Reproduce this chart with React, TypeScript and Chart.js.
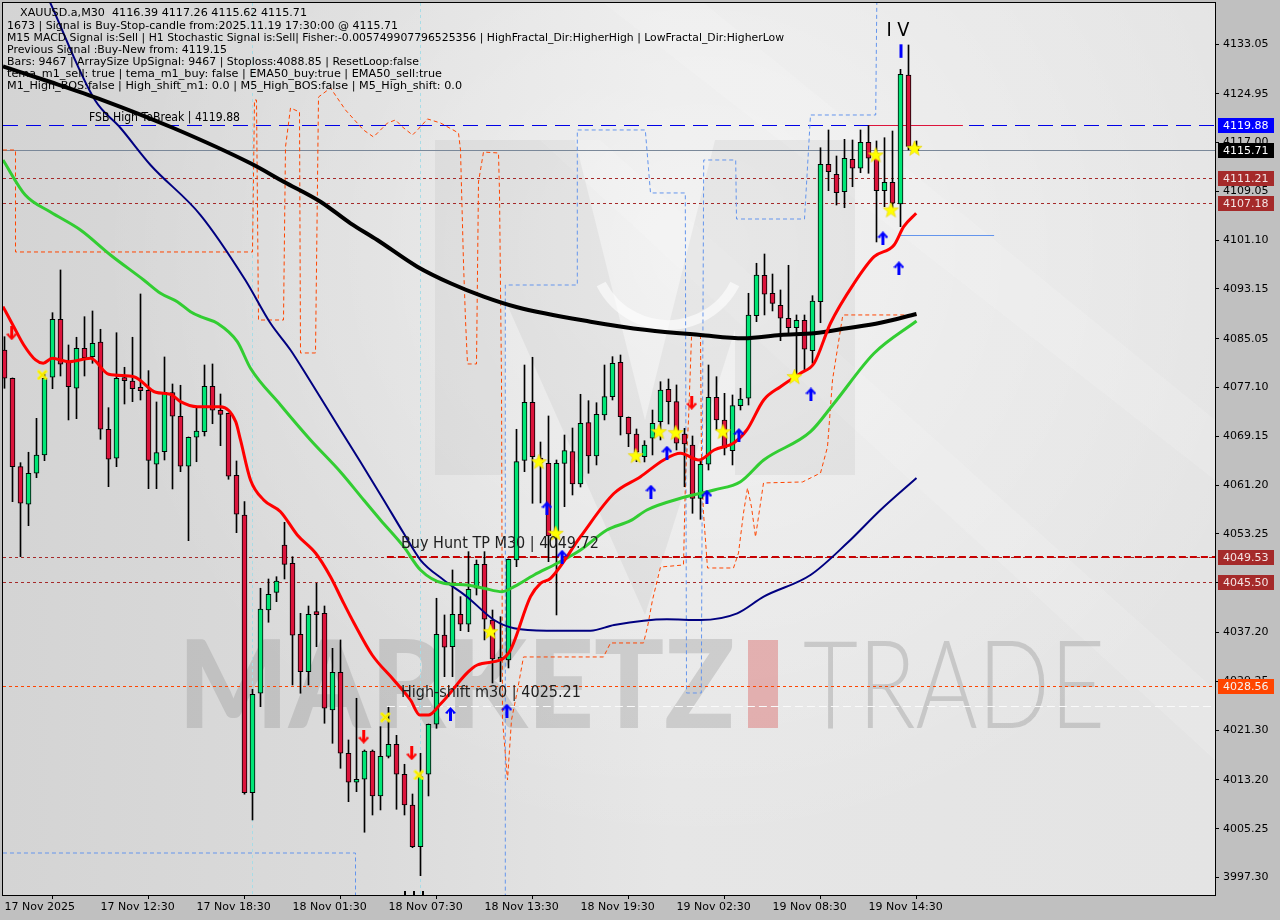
import React, { useEffect, useRef } from "react";
import { Chart, registerables } from "chart.js";
Chart.register(...registerables);

// ---------- candles (M30) ----------
const opens = [4083.22,4078.61,4064.21,4058.09,4063.14,4066.12,4078.77,4088.22,4081.31,4076.98,4083.49,4082.13,4084.52,4070.30,4065.58,4078.61,4078.17,4077.14,4076.65,4064.60,4066.65,4076.26,4072.42,4064.28,4069.00,4069.91,4077.30,4073.40,4072.91,4062.81,4056.34,4011.12,4027.31,4040.87,4043.75,4051.46,4048.48,4036.91,4030.82,4040.33,4040.33,4024.58,4030.72,4017.53,4012.81,4013.30,4017.91,4010.58,4017.04,4019.00,4014.11,4009.11,4002.32,4014.11,4022.26,4036.80,4034.89,4040.17,4038.54,4044.41,4048.31,4039.24,4032.73,4032.73,4049.01,4065.25,4074.70,4065.63,4064.76,4053.09,4064.76,4066.65,4061.39,4071.38,4065.95,4072.63,4075.61,4081.21,4072.26,4069.54,4065.84,4068.84,4071.54,4076.82,4074.80,4069.54,4067.74,4059.06,4064.60,4075.51,4071.82,4066.82,4074.15,4075.35,4088.80,4095.38,4092.45,4090.50,4088.38,4086.85,4088.05,4083.10,4091.08,4113.46,4111.83,4109.00,4114.28,4112.81,4117.04,4115.25,4109.16,4110.53,4107.00,4128.01,4116.39];
const highs = [4085.38,4078.66,4064.86,4066.56,4072.09,4079.31,4089.29,4096.25,4084.03,4085.29,4088.64,4089.57,4086.59,4073.82,4086.03,4080.40,4085.29,4092.34,4079.85,4074.75,4082.08,4077.68,4077.47,4069.05,4073.72,4080.77,4080.94,4076.05,4072.96,4065.14,4058.51,4027.96,4044.41,4045.92,4046.29,4055.15,4049.55,4040.33,4041.52,4045.22,4041.52,4034.63,4035.99,4019.70,4026.49,4018.07,4018.07,4021.87,4025.03,4020.46,4015.74,4010.90,4017.53,4022.30,4042.78,4040.06,4047.39,4043.04,4050.37,4049.01,4050.37,4040.87,4039.78,4049.18,4070.30,4080.77,4082.03,4068.23,4072.47,4065.30,4069.37,4070.51,4076.00,4074.96,4074.63,4080.77,4082.13,4082.40,4072.31,4070.35,4068.44,4073.44,4078.05,4078.49,4077.52,4070.46,4069.21,4065.30,4080.77,4078.87,4076.16,4075.89,4076.98,4092.45,4097.34,4098.85,4095.59,4092.99,4097.01,4088.92,4088.92,4092.06,4116.16,4119.05,4114.81,4117.53,4117.42,4119.05,4119.75,4117.26,4117.79,4118.88,4128.93,4132.89,4117.26];
const lows = [4076.98,4058.51,4049.55,4054.60,4062.42,4065.19,4076.91,4078.98,4071.82,4072.03,4078.98,4081.05,4068.67,4060.95,4064.21,4074.42,4074.80,4075.07,4060.63,4060.63,4065.30,4060.58,4063.40,4052.16,4065.02,4069.21,4071.21,4067.63,4062.16,4053.46,4010.86,4006.67,4025.12,4038.87,4042.22,4045.92,4028.66,4027.31,4028.66,4034.89,4022.42,4019.16,4015.09,4009.65,4011.28,4004.67,4007.48,4008.30,4016.77,4008.41,4007.48,4002.16,3997.60,4010.58,4021.60,4030.01,4030.01,4037.50,4037.34,4043.31,4035.99,4028.98,4029.19,4031.43,4047.92,4063.40,4058.25,4058.30,4048.74,4040.06,4057.70,4059.60,4060.90,4063.14,4064.49,4071.82,4075.07,4069.37,4067.47,4065.02,4064.98,4066.12,4068.56,4071.16,4066.93,4060.95,4056.62,4055.64,4063.67,4070.19,4066.12,4064.49,4073.44,4074.26,4087.83,4088.92,4089.57,4084.73,4086.03,4079.15,4079.96,4081.05,4087.66,4109.16,4106.83,4106.39,4109.81,4112.09,4112.00,4100.81,4106.56,4105.69,4103.30,4115.80,4115.62];
const closes = [4078.61,4064.21,4058.25,4063.14,4066.12,4078.61,4088.22,4080.89,4077.24,4083.49,4081.96,4084.31,4070.30,4065.42,4078.61,4078.22,4076.91,4076.59,4065.25,4066.49,4076.33,4072.42,4064.28,4069.00,4070.02,4077.30,4073.40,4072.74,4062.65,4056.46,4011.12,4027.14,4041.03,4043.43,4045.59,4048.31,4036.75,4030.82,4040.17,4040.11,4024.86,4030.72,4017.53,4012.81,4013.30,4017.91,4010.58,4017.04,4019.00,4014.11,4009.11,4002.32,4013.72,4022.26,4036.91,4034.80,4040.17,4038.54,4044.24,4048.31,4039.36,4032.89,4033.22,4049.13,4065.03,4074.70,4065.84,4064.81,4052.92,4064.76,4066.82,4061.39,4071.28,4065.95,4072.74,4075.61,4081.05,4072.35,4069.54,4066.56,4067.74,4071.28,4076.70,4074.80,4068.02,4067.91,4059.06,4064.60,4075.51,4071.82,4067.21,4074.15,4075.24,4088.92,4095.43,4092.29,4090.82,4088.38,4086.85,4088.05,4083.33,4091.20,4113.46,4112.26,4108.84,4114.44,4112.81,4117.04,4114.44,4109.16,4110.53,4107.11,4128.12,4116.39,4115.71];

// ---------- axes ----------
const xTickIndex = [0, 12, 24, 36, 48, 60, 72, 84, 96, 108];
const xTickLabels = ["17 Nov 2025","17 Nov 12:30","17 Nov 18:30","18 Nov 01:30","18 Nov 07:30","18 Nov 13:30","18 Nov 19:30","19 Nov 02:30","19 Nov 08:30","19 Nov 14:30"];
const yTicks = [4133.05,4124.95,4117.00,4109.05,4101.10,4093.15,4085.05,4077.10,4069.15,4061.20,4053.25,4045.30,4037.20,4029.25,4021.30,4013.20,4005.25,3997.30];
const yMin = 3994.45;
const yMax = 4139.73;
const xMin = -0.1875;
const xMax = 151.3125;

// ---------- moving averages [index, price] ----------
const redMA = [[-0.19,4090.28],[1.16,4087.01],[2.41,4084.03],[3.88,4081.59],[4.84,4081.05],[5.96,4081.87],[8.04,4081.31],[10.75,4081.87],[13.04,4079.26],[16.16,4078.87],[18.9,4076.33],[20.75,4076.0],[22,4074.8],[24.1,4073.98],[27,4073.98],[28.9,4071.54],[29.5,4068.56],[30.75,4062.04],[32.4,4058.79],[34.5,4056.88],[36.6,4053.09],[38.9,4050.11],[40.75,4046.29],[42.2,4042.5],[43.7,4038.71],[45.96,4033.54],[48.66,4029.47],[50.75,4026.21],[51.9,4023.77],[53.0,4023.77],[54.5,4025.56],[59.1,4031.91],[62,4032.73],[63.25,4034.36],[65.75,4043.04],[67,4045.22],[68.25,4046.03],[72,4052.81],[76.2,4059.88],[79.5,4062.58],[82.4,4065.3],[84.5,4066.39],[86.8,4065.3],[88.7,4066.93],[91.2,4068.12],[92.8,4070.19],[94.9,4075.07],[97,4077.24],[99.5,4079.42],[101.2,4081.05],[103.25,4087.57],[106.2,4094.08],[108.7,4098.41],[111.2,4100.32],[112.4,4103.3],[113.96,4105.48]];
const greenMA = [[-0.19,4114.16],[2.6,4108.46],[5.75,4105.69],[9.5,4102.76],[13.25,4098.69],[17.4,4094.62],[19.5,4092.45],[21.6,4091.08],[23.25,4089.45],[24.5,4088.64],[26.6,4087.57],[29.1,4084.57],[30.75,4080.24],[34.5,4074.26],[38.25,4068.56],[42,4063.35],[44.9,4058.79],[47,4055.53],[49.9,4051.18],[52,4047.39],[54.9,4045.22],[57.8,4044.94],[59.9,4044.41],[62.2,4043.85],[63.7,4044.67],[66.2,4046.57],[69.1,4048.48],[72,4050.64],[75.3,4053.9],[78.25,4055.42],[80.3,4057.16],[84.5,4059.06],[88.7,4060.42],[92,4061.77],[94.9,4065.3],[100.75,4069.91],[103.7,4074.54],[108.7,4082.68],[114,4087.94]];
const blackMA = [[-0.19,4129.4],[5.75,4126.86],[12.25,4123.93],[21.1,4119.37],[30.75,4113.62],[34.9,4110.63],[39.5,4107.37],[43.25,4103.85],[46.6,4101.13],[51.6,4096.78],[55.75,4094.08],[59.9,4091.9],[64.1,4090.17],[73.25,4087.83],[80.3,4086.47],[87,4085.66],[92.4,4085.12],[97,4085.66],[101.2,4085.94],[105.3,4086.75],[109.5,4087.66],[114,4089.08]];
const navyMA = [[-0.19,4156.3],[5.56,4140.22],[11.3,4123.93],[14.5,4119.37],[18.25,4113.35],[24.5,4105.2],[30.1,4094.62],[33.25,4087.57],[35.75,4083.22],[38.0,4078.61],[42,4070.19],[44.5,4064.98],[47.4,4058.79],[49.9,4053.36],[52,4049.01],[54.9,4045.76],[57.8,4043.04],[61.2,4039.24],[63.7,4037.89],[67.8,4037.5],[73.25,4037.5],[76.2,4038.43],[82.8,4039.36],[87,4039.24],[91.6,4040.33],[94.9,4043.04],[100.75,4046.57],[105.3,4051.73],[109.5,4057.16],[114,4062.37]];

// ---------- channel step lines [index, price] ----------
const orangeSteps = [[-0.19,4115.79],[1.375,4115.79],[1.375,4099.18],[31,4099.18],[31.25,4123.93],[31.5,4123.93],[31.75,4088.1],[34.875,4088.1],[35.125,4116.28],[35.75,4122.63],[36.875,4121.98],[37,4082.73],[38.875,4082.73],[39.25,4124.42],[40.75,4125.89],[42.625,4122.3],[44.875,4119.05],[46.125,4117.91],[47.875,4120.19],[48.875,4120.68],[49.75,4119.54],[51,4118.23],[51.625,4119.05],[52.875,4120.84],[54.5,4120.19],[56.75,4118.56],[57,4115.79],[57.375,4097.39],[57.625,4088.1],[57.875,4080.94],[59,4080.94],[59.25,4110.58],[59.875,4115.46],[61.75,4115.3],[61.875,4108.79],[62.125,4078.33],[62.25,4022.96],[62.875,4013.18],[63.375,4022.96],[64.125,4027.84],[64.875,4033.22],[74.875,4033.22],[75.75,4035.5],[79.875,4035.5],[80.375,4038.1],[81,4042.5],[82,4047.87],[84.875,4048.2],[85.125,4062.53],[85.5,4071.82],[85.875,4085.33],[87,4085.82],[87.125,4064.81],[87.375,4056.67],[87.875,4047.71],[91.125,4047.71],[91.75,4050.15],[92.375,4056.67],[92.875,4060.74],[93.375,4057.65],[93.875,4052.76],[94.875,4061.56],[99.75,4061.72],[102,4063.18],[102.875,4067.42],[103.5,4078.33],[104.75,4088.59],[104.875,4088.92],[114,4088.92]];
const blueSteps = [[-0.19,4013.18],[-0.19,4001.29],[43.875,4001.29],[43.875,3977],[62.6,3977],[62.6,4093.8],[71.6,4093.8],[71.6,4119.05],[80.1,4119.05],[80.75,4108.79],[85.1,4108.79],[85.25,4027.35],[87.1,4027.35],[87.4,4114.16],[91.4,4114.16],[91.5,4104.55],[100,4104.55],[100.75,4121.49],[108.9,4121.49],[109.1,4148]];

// ---------- signal markers [index, price] ----------
const stars = [[60.75,4037.34],[66.8,4065.02],[68.9,4053.36],[78.9,4066.0],[81.8,4069.91],[83.9,4069.75],[89.8,4069.91],[98.75,4078.87],[108.9,4114.98],[110.8,4106.02],[113.75,4116.07]];
const crosses = [[4.71,4079.15],[47.6,4023.4],[51.8,4014.0]];
const upArrows = [[55.75,4023.93],[62.8,4024.47],[67.8,4057.43],[69.7,4049.55],[80.8,4060.14],[82.8,4066.49],[87.8,4059.33],[91.8,4069.37],[100.8,4075.97],[109.8,4101.41],[111.8,4096.52]];
const downArrows = [[0.9,4085.94],[44.9,4020.24],[50.9,4017.53],[85.9,4074.63]];

// ---------- levels ----------
const fsbHigh = 4119.88;
const currentPrice = 4115.71;
const brownLevels = [4111.21, 4107.18, 4049.53, 4045.50];
const orangeLevel = 4028.56;
const buyHuntLevel = 4049.53;
const buyHuntValue = 4049.72;
const highShift = 4025.21;
const buyHuntFrom = 47.8;
const fsbRedSeg = [108, 119.8];
const blueSegLevel = 4101.95;
const blueSeg = [112, 123.7];
const separators = [30.95, 51.95];
const waveMarkIndex = 112;
const waveMarkRange = [4130.8, 4133.0];
const bottomMarks = [49.9, 51.0, 52.2];

const infoLines = [
  "XAUUSD.a,M30  4116.39 4117.26 4115.62 4115.71",
  "1673 | Signal is Buy-Stop-candle from:2025.11.19 17:30:00 @ 4115.71",
  "M15 MACD Signal is:Sell | H1 Stochastic Signal is:Sell| Fisher:-0.005749907796525356 | HighFractal_Dir:HigherHigh | LowFractal_Dir:HigherLow",
  "Previous Signal :Buy-New from: 4119.15",
  "Bars: 9467 | ArraySize UpSignal: 9467 | Stoploss:4088.85 | ResetLoop:false",
  "tema_m1_sell: true | tema_m1_buy: false | EMA50_buy:true | EMA50_sell:true",
  "M1_High_BOS:false | High_shift_m1: 0.0 | M5_High_BOS:false | M5_High_shift: 0.0",
];
const infoWidths = [287, 391, 777, 220, 412, 435, 455];

const axisBoxes = [
  { v: 4119.88, bg: "#0000ff", fg: "#ffffff" },
  { v: 4115.71, bg: "#000000", fg: "#ffffff" },
  { v: 4111.21, bg: "#a52a2a", fg: "#f4e4e4" },
  { v: 4107.18, bg: "#a52a2a", fg: "#f4e4e4" },
  { v: 4049.53, bg: "#a52a2a", fg: "#f4e4e4" },
  { v: 4045.50, bg: "#a52a2a", fg: "#f4e4e4" },
  { v: 4028.56, bg: "#ff4500", fg: "#f4f4f4" },
];

const FONT = "DejaVu Sans";

function toXY(arr: number[][]) {
  return arr.map(([x, y]) => ({ x, y }));
}

function makeStar(size: number) {
  const c = document.createElement("canvas");
  c.width = size; c.height = size;
  const g = c.getContext("2d")!;
  const cx = size / 2, cy = size / 2 + 0.5, R = size / 2 - 0.5, r = R * 0.42;
  g.beginPath();
  for (let k = 0; k < 10; k++) {
    const a = -Math.PI / 2 + (k * Math.PI) / 5;
    const rad = k % 2 === 0 ? R : r;
    g.lineTo(cx + rad * Math.cos(a), cy + rad * Math.sin(a));
  }
  g.closePath();
  g.fillStyle = "#ffff00";
  g.fill();
  g.strokeStyle = "#e8d000";
  g.lineWidth = 0.6;
  g.stroke();
  return c;
}
function makeCross(size: number) {
  const c = document.createElement("canvas");
  c.width = size; c.height = size;
  const g = c.getContext("2d")!;
  g.strokeStyle = "#ffff00";
  g.lineWidth = 3;
  g.lineCap = "round";
  g.beginPath();
  g.moveTo(2, 2); g.lineTo(size - 2, size - 2);
  g.moveTo(size - 2, 2); g.lineTo(2, size - 2);
  g.stroke();
  g.strokeStyle = "#f0d000";
  g.lineWidth = 1;
  g.stroke();
  return c;
}
function makeArrow(color: string, up: boolean) {
  const w = 11, h = 14;
  const c = document.createElement("canvas");
  c.width = w; c.height = h;
  const g = c.getContext("2d")!;
  if (!up) { g.translate(0, h); g.scale(1, -1); }
  g.fillStyle = color;
  g.beginPath();
  g.moveTo(w / 2, 0);
  g.lineTo(w, 6);
  g.lineTo(w - 2.5, 7);
  g.lineTo(w / 2 + 1.5, 4);
  g.lineTo(w / 2 + 1.5, h);
  g.lineTo(w / 2 - 1.5, h);
  g.lineTo(w / 2 - 1.5, 4);
  g.lineTo(2.5, 7);
  g.lineTo(0, 6);
  g.closePath();
  g.fill();
  return c;
}

function fitText(ctx: CanvasRenderingContext2D, text: string, x: number, y: number, w: number) {
  const m = ctx.measureText(text).width;
  ctx.save();
  ctx.translate(x, y);
  ctx.scale(w / m, 1);
  ctx.fillText(text, 0, 0);
  ctx.restore();
}

const bgPlugin = {
  id: "bgPlugin",
  beforeDraw(chart: any) {
    const { ctx, chartArea: a } = chart;
    ctx.save();
    ctx.fillStyle = "#c0c0c0";
    ctx.fillRect(0, 0, chart.width, chart.height);
    ctx.beginPath();
    ctx.rect(a.left, a.top, a.right - a.left, a.bottom - a.top);
    ctx.clip();
    const g = ctx.createLinearGradient(a.left, 0, a.right, 0);
    g.addColorStop(0, "#d4d4d4");
    g.addColorStop(0.3, "#dbdbdb");
    g.addColorStop(0.55, "#e6e6e6");
    g.addColorStop(1, "#e4e4e4");
    ctx.fillStyle = g;
    ctx.fillRect(a.left, a.top, a.right - a.left, a.bottom - a.top);
    const r = ctx.createRadialGradient(700, 250, 0, 700, 250, 600);
    r.addColorStop(0, "rgba(255,255,255,0.5)");
    r.addColorStop(1, "rgba(255,255,255,0)");
    ctx.fillStyle = r;
    ctx.fillRect(a.left, a.top, a.right - a.left, a.bottom - a.top);
    // diagonal light streaks
    ctx.fillStyle = "rgba(255,255,255,0.14)";
    ctx.beginPath();
    ctx.moveTo(540, 140); ctx.lineTo(600, 140); ctx.lineTo(1215, 690); ctx.lineTo(1215, 760); ctx.closePath();
    ctx.fill();
    ctx.beginPath();
    ctx.moveTo(600, 0); ctx.lineTo(700, 0); ctx.lineTo(1215, 420); ctx.lineTo(1215, 480); ctx.closePath();
    ctx.fill();
    // logo M
    ctx.fillStyle = "rgba(0,0,0,0.045)";
    ctx.fillRect(435, 140, 70, 335);
    ctx.fillRect(735, 140, 120, 335);
    ctx.beginPath();
    ctx.moveTo(505, 140); ctx.lineTo(575, 140); ctx.lineTo(645, 420); ctx.lineTo(715, 140); ctx.lineTo(735, 140);
    ctx.lineTo(735, 330); ctx.lineTo(645, 615); ctx.lineTo(505, 300); ctx.closePath();
    ctx.fill();
    ctx.strokeStyle = "rgba(255,255,255,0.6)";
    ctx.lineWidth = 10;
    ctx.beginPath();
    ctx.arc(668, 250, 75, 0.15 * Math.PI, 0.85 * Math.PI);
    ctx.stroke();
    // watermark text
    ctx.fillStyle = "rgba(140,140,140,0.3)";
    ctx.textBaseline = "alphabetic";
    ctx.font = `900 122px Lato`;
    fitText(ctx, "MARKETZ", 178, 728, 557);
    ctx.fillStyle = "rgba(215,70,70,0.35)";
    ctx.fillRect(748, 640, 30, 88);
    ctx.fillStyle = "rgba(140,140,140,0.35)";
    ctx.font = `300 122px Lato`;
    fitText(ctx, "TRADE", 803, 728, 302);
    ctx.restore();
  },
  beforeDatasetsDraw(chart: any) {
    const { ctx, chartArea: a, scales } = chart;
    const xs = scales.x, ys = scales.y;
    ctx.save();
    ctx.beginPath();
    ctx.rect(a.left, a.top, a.right - a.left, a.bottom - a.top);
    ctx.clip();
    const hline = (v: number, x0: number, x1: number, color: string, dash: number[], w: number) => {
      const y = Math.round(ys.getPixelForValue(v)) + (w % 2 ? 0.5 : 0);
      ctx.strokeStyle = color;
      ctx.lineWidth = w;
      ctx.setLineDash(dash);
      ctx.beginPath();
      ctx.moveTo(x0, y);
      ctx.lineTo(x1, y);
      ctx.stroke();
    };
    // separators
    ctx.strokeStyle = "#a8dce6";
    ctx.lineWidth = 1;
    ctx.setLineDash([3, 3]);
    for (const s of separators) {
      const x = Math.round(xs.getPixelForValue(s)) + 0.5;
      ctx.beginPath(); ctx.moveTo(x, a.top); ctx.lineTo(x, a.bottom); ctx.stroke();
    }
    hline(fsbHigh, a.left, a.right, "#0000e6", [15, 8], 1);
    hline(currentPrice, a.left, a.right, "#7a8899", [], 1);
    for (const v of brownLevels) hline(v, a.left, a.right, "#a52a2a", [3, 3], 1);
    hline(orangeLevel, a.left, a.right, "#ff4500", [3, 3], 1);
    hline(buyHuntLevel, xs.getPixelForValue(buyHuntFrom), a.right, "#c80000", [7, 4], 2);
    hline(highShift, xs.getPixelForValue(buyHuntFrom), a.right, "#fafafa", [8, 4], 1);
    hline(fsbHigh, xs.getPixelForValue(fsbRedSeg[0]), xs.getPixelForValue(fsbRedSeg[1]), "#dc143c", [], 1);
    hline(blueSegLevel, xs.getPixelForValue(blueSeg[0]), xs.getPixelForValue(blueSeg[1]), "#6495ed", [], 1);
    ctx.restore();
  },
  afterDatasetsDraw(chart: any) {
    const { ctx, scales } = chart;
    const xs = scales.x, ys = scales.y;
    ctx.save();
    ctx.fillStyle = "#000";
    ctx.textBaseline = "middle";
    ctx.font = `11px "${FONT}"`;
    const rowsY = [13, 26, 38, 50, 62, 74, 86];
    infoLines.forEach((t, k) => fitText(ctx, t, k === 0 ? 20 : 7, rowsY[k], infoWidths[k]));
    // level labels
    ctx.textBaseline = "bottom";
    ctx.font = `12px "${FONT}"`;
    fitText(ctx, `FSB High ToBreak | ${fsbHigh.toFixed(2)}`, 89, ys.getPixelForValue(fsbHigh) - 1, 151);
    ctx.fillStyle = "#1e1e1e";
    ctx.font = `16px "${FONT}"`;
    const lx = xs.getPixelForValue(buyHuntFrom) + 14;
    fitText(ctx, `Buy Hunt TP M30 | ${buyHuntValue.toFixed(2)}`, lx, ys.getPixelForValue(buyHuntLevel) - 5, 198);
    fitText(ctx, `High-shift m30 | ${highShift.toFixed(2)}`, lx, ys.getPixelForValue(highShift) - 5, 180);
    // wave mark
    ctx.fillStyle = "#000";
    ctx.textBaseline = "middle";
    ctx.font = `20px "${FONT}"`;
    fitText(ctx, "I V", xs.getPixelForValue(waveMarkIndex) - 14, 31, 23);
    ctx.fillStyle = "#0000ff";
    const wx = xs.getPixelForValue(waveMarkIndex);
    const wy0 = ys.getPixelForValue(waveMarkRange[1]);
    const wy1 = ys.getPixelForValue(waveMarkRange[0]);
    ctx.fillRect(wx - 1, wy0, 3, wy1 - wy0);
    // bottom fractal marks
    ctx.fillStyle = "#000";
    for (const b of bottomMarks) {
      const bx = Math.round(xs.getPixelForValue(b));
      ctx.fillRect(bx, chart.chartArea.bottom - 4, 2, 4);
    }
    ctx.restore();
  },
  afterDraw(chart: any) {
    const { ctx, chartArea: a, scales } = chart;
    const ys = scales.y;
    ctx.save();
    ctx.strokeStyle = "#000";
    ctx.lineWidth = 1;
    ctx.strokeRect(a.left - 0.5, a.top - 0.5, a.right - a.left + 1, a.bottom - a.top + 1);
    ctx.font = `11px "${FONT}"`;
    ctx.textBaseline = "middle";
    for (const b of axisBoxes) {
      const y = Math.round(ys.getPixelForValue(b.v));
      ctx.fillStyle = b.bg;
      ctx.fillRect(a.right + 3, y - 7, 56, 15);
      ctx.fillStyle = b.fg;
      ctx.fillText(b.v.toFixed(2), a.right + 8, y + 1);
    }
    ctx.restore();
  },
};

export default function App() {
  const ref = useRef<HTMLCanvasElement | null>(null);
  useEffect(() => {
    document.body.style.margin = "0";
    const canvas = ref.current!;
    const idx = opens.map((_, i) => i);
    const upIdx = idx.filter((i) => closes[i] >= opens[i]);
    const dnIdx = idx.filter((i) => closes[i] < opens[i]);
    const star = makeStar(17);
    const cross = makeCross(11);
    const upA = makeArrow("#0000ff", true);
    const dnA = makeArrow("#ff0000", false);
    const lineDs = (data: number[][], color: string, width: number, order: number) => ({
      type: "line",
      data: toXY(data),
      borderColor: color,
      borderWidth: width,
      pointRadius: 0,
      cubicInterpolationMode: "monotone",
      fill: false,
      order,
    });
    const stepDs = (data: number[][], color: string) => ({
      type: "line",
      data: toXY(data),
      borderColor: color,
      borderWidth: 1,
      borderDash: [4, 3],
      pointRadius: 0,
      tension: 0,
      fill: false,
      order: 40,
    });
    const markDs = (data: number[][], img: HTMLCanvasElement, order: number) => ({
      type: "line",
      data: toXY(data),
      showLine: false,
      pointStyle: img,
      pointRadius: 6,
      order,
    });
    const chart = new Chart(canvas, {
      type: "line",
      data: {
        datasets: [
          stepDs(orangeSteps, "#ff4500"),
          stepDs(blueSteps, "#6495ed"),
          {
            type: "bar",
            data: idx.map((i) => ({ x: i, y: [lows[i], highs[i]] })),
            backgroundColor: "#000",
            borderWidth: 0,
            barThickness: 1,
            grouped: false,
            order: 30,
          },
          {
            type: "bar",
            data: upIdx.map((i) => ({ x: i, y: [opens[i], closes[i]] })),
            backgroundColor: "#00e676",
            borderColor: "#000",
            borderWidth: 1,
            borderSkipped: false,
            barThickness: 5,
            minBarLength: 3,
            grouped: false,
            order: 29,
          },
          {
            type: "bar",
            data: dnIdx.map((i) => ({ x: i, y: [opens[i], closes[i]] })),
            backgroundColor: "#dc143c",
            borderColor: "#000",
            borderWidth: 1,
            borderSkipped: false,
            barThickness: 5,
            minBarLength: 3,
            grouped: false,
            order: 29,
          },
          lineDs(navyMA, "#000080", 2, 9),
          lineDs(blackMA, "#000000", 4, 8),
          lineDs(greenMA, "#32cd32", 3, 7),
          lineDs(redMA, "#ff0000", 3, 6),
          markDs(stars, star, 2),
          markDs(crosses, cross, 2),
          markDs(upArrows, upA, 1),
          markDs(downArrows, dnA, 1),
        ] as any,
      },
      options: {
        responsive: false,
        animation: false,
        events: [],
        layout: { autoPadding: false, padding: { left: 3, top: 3, right: 0, bottom: 0 } },
        plugins: { legend: { display: false }, tooltip: { enabled: false } },
        scales: {
          x: {
            type: "linear",
            min: xMin,
            max: xMax,
            offset: false,
            afterBuildTicks: (s: any) => {
              s.ticks = xTickIndex.map((v) => ({ value: v }));
            },
            afterFit: (s: any) => {
              s.height = 25;
              s.paddingLeft = 0;
              s.paddingRight = 0;
            },
            ticks: {
              autoSkip: false,
              maxRotation: 0,
              minRotation: 0,
              align: "start",
              padding: 2,
              color: "#000",
              font: { family: FONT, size: 11 },
              callback: (v: any) => {
                const k = xTickIndex.indexOf(Number(v));
                return k >= 0 ? xTickLabels[k] : "";
              },
            },
            grid: { drawOnChartArea: false, drawTicks: true, tickLength: 4, color: "#000" },
            border: { display: true, color: "#000" },
          },
          y: {
            type: "linear",
            position: "right",
            min: yMin,
            max: yMax,
            afterBuildTicks: (s: any) => {
              s.ticks = yTicks.map((v) => ({ value: v }));
            },
            afterFit: (s: any) => {
              s.width = 65;
              s.paddingTop = 0;
              s.paddingBottom = 0;
            },
            ticks: {
              autoSkip: false,
              padding: 4,
              color: "#000",
              font: { family: FONT, size: 11 },
              callback: (v: any) => Number(v).toFixed(2),
            },
            grid: { drawOnChartArea: false, drawTicks: true, tickLength: 4, color: "#000" },
            border: { display: true, color: "#000" },
          },
        },
      } as any,
      plugins: [bgPlugin as any],
    });
    return () => chart.destroy();
  }, []);
  return (
    <div style={{ position: "fixed", left: 0, top: 0, width: 1280, height: 920 }}>
      <canvas ref={ref} width={1280} height={920} style={{ display: "block", width: 1280, height: 920 }} />
    </div>
  );
}
